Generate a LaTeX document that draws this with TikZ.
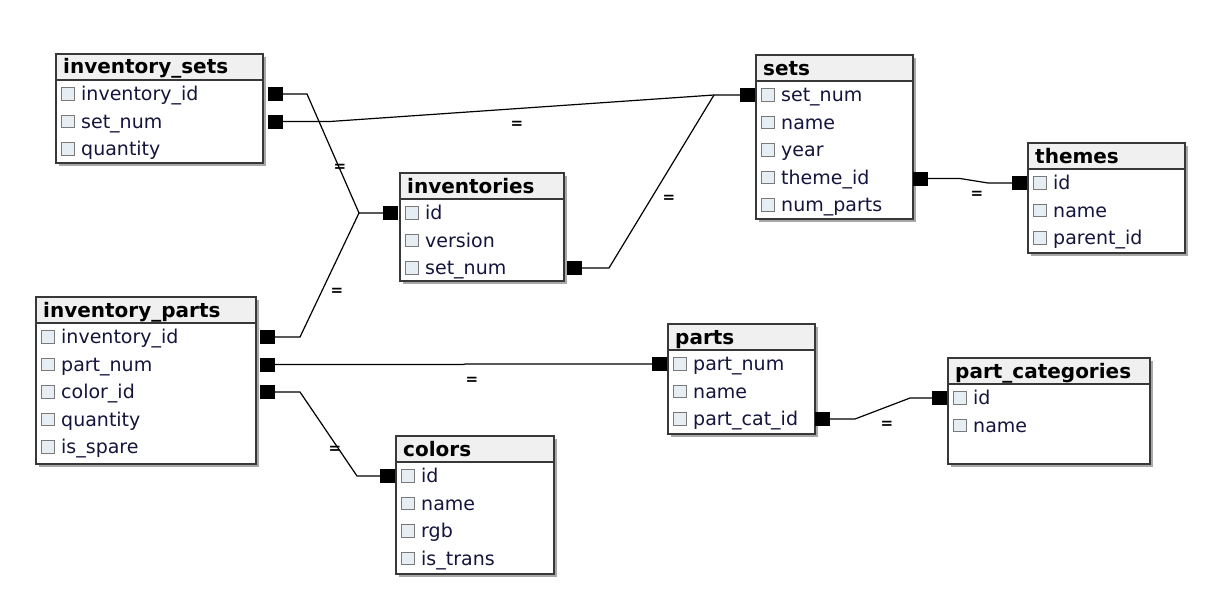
\documentclass[tikz,border=0pt]{standalone}
\usepackage{fontspec}
\setmainfont{DejaVu Sans}
\usetikzlibrary{shadows}
\definecolor{bordercol}{HTML}{383838}
\definecolor{headcol}{HTML}{F0F0F0}
\definecolor{shadowcol}{HTML}{A8A8A8}
\definecolor{chkfill}{HTML}{E6EDF3}
\definecolor{chkdraw}{HTML}{7A7A7A}
\definecolor{rowcol}{HTML}{14143C}
\tikzset{
 tbox/.style={draw=bordercol, line width=1.6pt, fill=white, inner sep=0pt, anchor=north west,
   drop shadow={shadow xshift=3pt, shadow yshift=-3pt, fill=shadowcol, opacity=1}},
 thead/.style={draw=bordercol, line width=1.6pt, fill=headcol, inner sep=0pt, anchor=north west, minimum height=26pt},
 ttitle/.style={anchor=base west, inner sep=0pt, font=\fontsize{20}{22}\selectfont\bfseries},
 rowtxt/.style={anchor=base west, inner sep=0pt, font=\fontsize{19}{22}\selectfont, text=rowcol},
 chk/.style={draw=chkdraw, fill=chkfill, line width=0.8pt, minimum size=12.5pt, inner sep=0pt},
 pkmark/.style={fill=black, minimum width=15pt, minimum height=14pt, inner sep=0pt},
 relline/.style={draw=black, line width=1.2pt},
 eqlbl/.style={inner sep=0pt, font=\fontsize{15}{15}\selectfont\bfseries},
}
\newcommand\dbtable[6]{%
 \node[tbox, minimum width=#4pt, minimum height=#5pt] (#1) at (#2,#3) {};
 \node[thead, minimum width=#4pt] (#1-head) at (#2,#3) {};
 \node[ttitle] (#1-title) at (#2+8,#3+21) {#6};
}
\newcommand\dbrow[5]{%
 \node[chk] (#1-chk) at (#2+13,#3+41+27.5*#4) {};
 \node[rowtxt] (#1) at (#2+26,#3+47.5+27.5*#4) {#5};
}
\begin{document}
\begin{tikzpicture}[x=1pt,y=-1pt]
\fill[white] (0,0) rectangle (1222,602);
\useasboundingbox (0,0) rectangle (1222,602);

% inventory_sets
\dbtable{is}{55}{53}{207}{109}{inventory\_sets}
\dbrow{is-r0}{55}{53}{0}{inventory\_id}
\dbrow{is-r1}{55}{53}{1}{set\_num}
\dbrow{is-r2}{55}{53}{2}{quantity}

% inventories
\dbtable{inv}{399}{172}{164}{108}{inventories}
\dbrow{inv-r0}{399}{172}{0}{id}
\dbrow{inv-r1}{399}{172}{1}{version}
\dbrow{inv-r2}{399}{172}{2}{set\_num}

% sets
\dbtable{sets}{755}{54}{157}{164}{sets}
\dbrow{sets-r0}{755}{54}{0}{set\_num}
\dbrow{sets-r1}{755}{54}{1}{name}
\dbrow{sets-r2}{755}{54}{2}{year}
\dbrow{sets-r3}{755}{54}{3}{theme\_id}
\dbrow{sets-r4}{755}{54}{4}{num\_parts}

% themes
\dbtable{th}{1027}{142}{157}{110}{themes}
\dbrow{th-r0}{1027}{142}{0}{id}
\dbrow{th-r1}{1027}{142}{1}{name}
\dbrow{th-r2}{1027}{142}{2}{parent\_id}

% inventory_parts
\dbtable{ip}{35}{296}{220}{167}{inventory\_parts}
\dbrow{ip-r0}{35}{296}{0}{inventory\_id}
\dbrow{ip-r1}{35}{296}{1}{part\_num}
\dbrow{ip-r2}{35}{296}{2}{color\_id}
\dbrow{ip-r3}{35}{296}{3}{quantity}
\dbrow{ip-r4}{35}{296}{4}{is\_spare}

% colors
\dbtable{col}{395}{435}{158}{138}{colors}
\dbrow{col-r0}{395}{435}{0}{id}
\dbrow{col-r1}{395}{435}{1}{name}
\dbrow{col-r2}{395}{435}{2}{rgb}
\dbrow{col-r3}{395}{435}{3}{is\_trans}

% parts
\dbtable{pa}{667}{323}{147}{110}{parts}
\dbrow{pa-r0}{667}{323}{0}{part\_num}
\dbrow{pa-r1}{667}{323}{1}{name}
\dbrow{pa-r2}{667}{323}{2}{part\_cat\_id}

% part_categories
\dbtable{pc}{947}{357}{202}{106}{part\_categories}
\dbrow{pc-r0}{947}{357}{0}{id}
\dbrow{pc-r1}{947}{357}{1}{name}

% key markers
\node[pkmark] (m-is-invid) at (275.5,94) {};
\node[pkmark] (m-is-setnum) at (275.5,121.5) {};
\node[pkmark] (m-inv-id) at (390.5,213) {};
\node[pkmark] (m-inv-setnum) at (574.5,268) {};
\node[pkmark] (m-sets-setnum) at (747.5,95) {};
\node[pkmark] (m-sets-theme) at (920.5,178.5) {};
\node[pkmark] (m-th-id) at (1019.5,183) {};
\node[pkmark] (m-ip-invid) at (267,337) {};
\node[pkmark] (m-ip-partnum) at (267,364.5) {};
\node[pkmark] (m-ip-color) at (267,392) {};
\node[pkmark] (m-col-id) at (387.5,476) {};
\node[pkmark] (m-pa-partnum) at (659.5,364) {};
\node[pkmark] (m-pa-cat) at (822,419) {};
\node[pkmark] (m-pc-id) at (939.5,398) {};

% junctions
\coordinate (j-inv) at (359,213);
\coordinate (j-sets) at (714,95);

% relations
\draw[relline] (m-is-invid.east) -- (307,94) -- (j-inv) -- (m-inv-id.west);
\draw[relline] (m-ip-invid.east) -- (300,337) -- (j-inv);
\draw[relline] (m-is-setnum.east) -- (330,121.5) -- (j-sets) -- (m-sets-setnum.west);
\draw[relline] (m-inv-setnum.east) -- (609,268) -- (j-sets);
\draw[relline] (m-ip-partnum.east) -- (463,364.5) -- (465,364) -- (m-pa-partnum.west);
\draw[relline] (m-ip-color.east) -- (300,392) -- (357,476) -- (m-col-id.west);
\draw[relline] (m-sets-theme.east) -- (960,178.5) -- (988,183) -- (m-th-id.west);
\draw[relline] (m-pa-cat.east) -- (855,419) -- (910,398) -- (m-pc-id.west);

% labels
\node[eqlbl] (e1) at (340,168) {=};
\node[eqlbl] (e2) at (517,124.5) {=};
\node[eqlbl] (e3) at (669,198.5) {=};
\node[eqlbl] (e4) at (337,292) {=};
\node[eqlbl] (e5) at (472,381) {=};
\node[eqlbl] (e6) at (335,450) {=};
\node[eqlbl] (e7) at (977,195) {=};
\node[eqlbl] (e8) at (887,425) {=};
\end{tikzpicture}
\end{document}
